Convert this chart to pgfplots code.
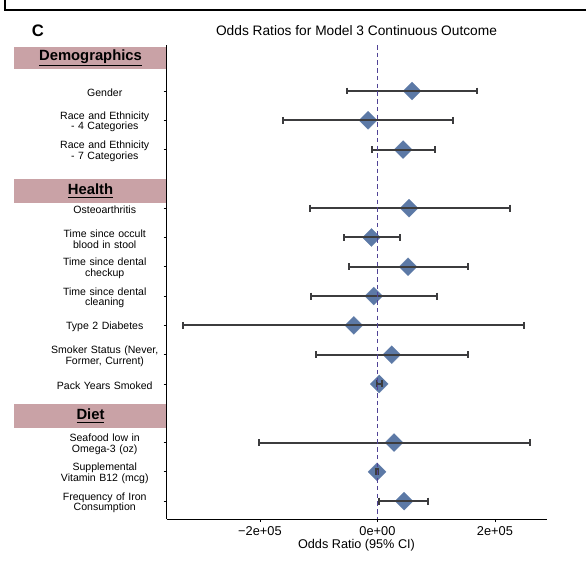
\documentclass[border=0pt]{standalone}
\usepackage{pgfplots}
\usepackage{pgfplotstable}
\pgfplotsset{compat=1.18}
\usepackage{fontspec}
\setmainfont{Liberation Sans}
\definecolor{hdr}{RGB}{201,162,166}
\definecolor{dia}{RGB}{92,121,166}
\definecolor{barc}{RGB}{60,60,62}
\definecolor{refc}{RGB}{80,66,150}
\pgfplotstableread{
k est lo hi
1 58900 -51700 169000
2 -16000 -160000 128700
3 43600 -8500 97500
5 53800 -115200 225200
6 -10200 -57400 38000
7 52100 -48900 154200
8 -6300 -113500 101400
9 -40300 -330200 249000
10 24300 -105000 154200
11 3000 -1500 7500
13 28300 -202000 259200
14 -700 -2000 600
15 45300 2700 86800
}\data
\begin{document}
\begin{tikzpicture}[x=0.75pt,y=0.75pt]
\useasboundingbox (0,0) rectangle (586,561);
\draw[line width=1.5pt] (4.5,561) -- (4.5,551) -- (586,551);
\node[font=\bfseries\fontsize{12.5}{12.5}\selectfont] at (38,530) {C};
\node[font=\fontsize{10.3}{11}\selectfont] at (356.5,530) {Odds Ratios for Model 3 Continuous Outcome};
\node[font=\fontsize{9.5}{10}\selectfont] at (356.5,16) {Odds Ratio (95\% CI)};
% header boxes
\fill[hdr] (14,514) rectangle (166.7,492);
\fill[hdr] (14,382) rectangle (166.7,358);
\fill[hdr] (14,157) rectangle (166.7,133);
\node[font=\bfseries\fontsize{11.1}{12}\selectfont] at (90.5,503) {\underline{Demographics}};
\node[font=\bfseries\fontsize{11.1}{12}\selectfont] at (90.5,370) {\underline{Health}};
\node[font=\bfseries\fontsize{11.1}{12}\selectfont] at (90.5,145) {\underline{Diet}};
\begin{axis}[
  at={(125pt,31.5pt)}, anchor=south west,
  scale only axis, width=285pt, height=355.5pt,
  xmin=-358800, xmax=288000, ymin=-0.57, ymax=15.61, y dir=reverse,
  axis x line*=bottom, axis y line*=left,
  axis line style={-, line width=0.75pt},
  clip=false, clip marker paths=true,
  scaled x ticks=false,
  xtick={-200000,0,200000},
  xticklabels={−2e+05,0e+00,2e+05},
  ytick={1,2,3,5,6,7,8,9,10,11,13,14,15},
  yticklabels={Gender,{Race and Ethnicity\\- 4 Categories},{Race and Ethnicity\\- 7 Categories},
    Osteoarthritis,{Time since occult\\blood in stool},{Time since dental\\checkup},{Time since dental\\cleaning},
    Type 2 Diabetes,{Smoker Status (Never,\\Former, Current)},Pack Years Smoked,
    {Seafood low in\\Omega-3 (oz)},{Supplemental\\Vitamin B12 (mcg)},{Frequency of Iron\\Consumption}},
  tick align=outside, major tick length=2.25pt,
  tick style={black, line width=0.6pt},
  xticklabel style={font=\fontsize{9.6}{10}\selectfont},
  yticklabel style={font=\fontsize{7.9}{7.9}\selectfont, align=center, text width=84pt, inner sep=0pt, anchor=east, xshift=-2pt, yshift=-1.2pt},
]
% diamonds
\addplot[only marks, color=dia, fill=dia, mark=square*, mark size=4.8pt, mark options={rotate=45, solid, fill=dia, draw=dia, line width=0.1pt}] table[x=est,y=k]{\data};
% confidence intervals: cap at lower end, bar to upper end
\addplot[only marks, color=barc, mark=|, mark size=2.6pt, mark options={solid, line width=1.5pt, draw=barc},
  error bars/.cd, x dir=plus, x explicit, error mark=none,
  error bar style={solid, line width=1.5pt, draw=barc}]
  table[x=lo, y=k, x error expr=\thisrow{hi}-\thisrow{lo}]{\data};
% caps at upper end
\addplot[only marks, color=barc, mark=|, mark size=2.6pt, mark options={solid, line width=1.5pt, draw=barc}]
  table[x=hi, y=k]{\data};
% reference line
\addplot[refc, line width=1pt, dash pattern=on 3.4pt off 2.4pt] coordinates {(0,-0.57) (0,15.61)};
\end{axis}
\end{tikzpicture}
\end{document}
